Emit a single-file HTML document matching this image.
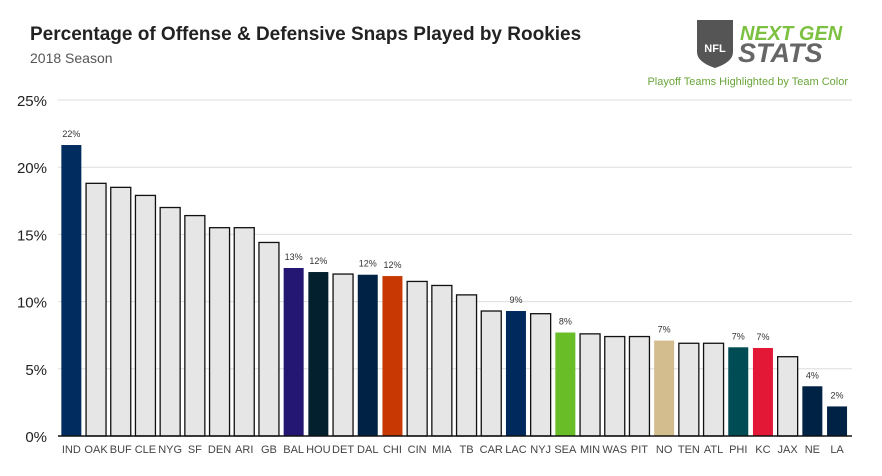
<!DOCTYPE html>
<html><head><meta charset="utf-8"><style>
body{margin:0;background:#fff;font-family:"Liberation Sans",sans-serif;}
#wrap{position:relative;width:882px;height:476px;overflow:hidden;}
</style></head><body>
<div id="wrap">
<svg id="svg" width="882" height="476" xmlns="http://www.w3.org/2000/svg">
<text x="30" y="40" font-size="19" font-weight="bold" fill="#222">Percentage of Offense &amp; Defensive Snaps Played by Rookies</text>
<text x="30" y="63" font-size="14" fill="#555">2018 Season</text>
<g>
<path d="M697 20 L733 20 L733 52 Q733 62 715 68 Q697 62 697 52 Z" fill="#555"/>
<text x="715" y="52" font-size="11" font-weight="bold" fill="#fff" text-anchor="middle">NFL</text>
<text x="740" y="40" font-size="20" font-style="italic" font-weight="bold" fill="#7dc142">NEXT GEN</text>
<text x="738" y="62" font-size="27" font-style="italic" font-weight="bold" fill="#666">STATS</text>
</g>
<text x="848" y="85" font-size="11" fill="#6aa53a" text-anchor="end">Playoff Teams Highlighted by Team Color</text>
<g id="grid"></g><g id="bars"></g>
</svg>
</div>
<script>
const teams=["IND","OAK","BUF","CLE","NYG","SF","DEN","ARI","GB","BAL","HOU","DET","DAL","CHI","CIN","MIA","TB","CAR","LAC","NYJ","SEA","MIN","WAS","PIT","NO","TEN","ATL","PHI","KC","JAX","NE","LA"];
const values=[21.65,18.8,18.5,17.9,17.0,16.4,15.5,15.5,14.4,12.5,12.2,12.05,12.0,11.9,11.5,11.2,10.5,9.3,9.3,9.1,7.7,7.6,7.4,7.4,7.1,6.9,6.9,6.6,6.55,5.9,3.7,2.2];
const colors=["#002c5f","","","","","","","","","#241773","#03202f","","#002244","#c83803","","","","","#002a5e","","#69be28","","","","#d3bc8d","","","#004c54","#e31837","","#002244","#002244"];
const labels=["22%","","","","","","","","","13%","12%","","12%","12%","","","","","9%","","8%","","","","7%","","","7%","7%","","4%","2%"];
const ticks=[0,5,10,15,20,25];
const NS="http://www.w3.org/2000/svg";
const y0=436,pxPer=13.44,x0=59,slot=24.7,bw=20;
const y=v=>y0-v*pxPer, x=i=>x0+i*slot+(slot-bw)/2;
function mk(t,a,p){const e=document.createElementNS(NS,t);for(const k in a)e.setAttribute(k,a[k]);p.appendChild(e);return e;}
const g=document.getElementById('grid'),b=document.getElementById('bars');
ticks.forEach(t=>{
 if(t>0){const l=mk('line',{x1:58,x2:852,y1:y(t),y2:y(t),stroke:'#ddd','stroke-width':1},g);
 
 }
 const tx=mk('text',{x:47,y:y(t)+6,'font-size':15,fill:'#222','text-anchor':'end'},g);tx.textContent=t+'%';
 
 
});
teams.forEach((tm,i)=>{
 const r=mk('rect',{x:x(i),y:y(values[i]),width:bw,height:values[i]*pxPer,fill:colors[i]||'#e6e6e6',stroke:'#111','stroke-width':colors[i]?0:1.3},b);
 
 
 const t=mk('text',{x:x(i)+bw/2,y:453,'font-size':11,fill:'#444','text-anchor':'middle'},b);t.textContent=tm;
 
 
 if(labels[i]){const v=mk('text',{x:x(i)+bw/2,y:y(values[i])-8,'font-size':9,fill:'#333','text-anchor':'middle'},b);v.textContent=labels[i];
 
 }
});
mk('line',{x1:58,x2:852,y1:y0,y2:y0,stroke:'#111','stroke-width':1.5},b);
</script>
</body></html>
